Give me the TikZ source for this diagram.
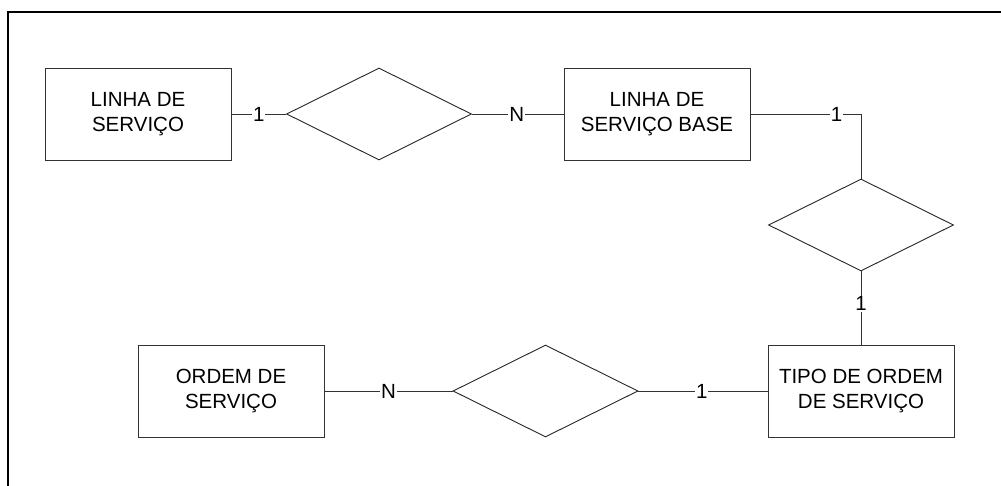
\documentclass[tikz,border=0pt]{standalone}
\usepackage{fontspec}
\setmainfont{Liberation Sans}
\usetikzlibrary{shapes.geometric}
\begin{document}
\begin{tikzpicture}[x=1pt,y=-1pt,
  entity/.style={draw=black!80, line width=0.9pt, minimum width=186pt, minimum height=92pt,
    align=center, inner sep=0pt, font=\fontsize{20.5}{24.5}\selectfont},
  relation/.style={draw=black!85, line width=0.9pt, diamond, minimum width=185pt, minimum height=92pt,
    inner sep=0pt, aspect=2},
  link/.style={draw=black!80, line width=0.9pt},
  card/.style={fill=white, inner sep=1pt, font=\fontsize{20.5}{24}\selectfont}]
  \useasboundingbox (0,0) rectangle (1001,486);
  % outer frame, running off the page at right and bottom
  \begin{scope}
    \clip (0,0) rectangle (1001,486);
    \draw[line width=1.6pt] (8,12) rectangle (1020,500);
  \end{scope}

  % entities
  \node[entity] (ls)   at (138,114) {LINHA DE\\SERVIÇO};
  \node[entity] (lsb)  at (657,114) {LINHA DE\\SERVIÇO BASE};
  \node[entity] (tos)  at (861,391) {TIPO DE ORDEM\\DE SERVIÇO};
  \node[entity] (os)   at (231,391) {ORDEM DE\\SERVIÇO};

  % relationships
  \node[relation] (r1) at (379,114) {};
  \node[relation] (r2) at (861,225) {};
  \node[relation] (r3) at (545.5,391) {};

  % connectors with cardinalities
  \draw[link] (ls.east) -- node[card, pos=0.5] {1} (r1.west);
  \draw[link] (r1.east) -- node[card, pos=0.49] {N} (lsb.east -| lsb.west);
  \coordinate (corner) at (r2.north |- lsb.east);
  \draw[link] (lsb.east) -- node[card, pos=0.78] {1} (corner) -- (r2.north);
  \draw[link] (r2.south) -- node[card, pos=0.44] {1} (tos.north);
  \draw[link] (tos.west) -- node[card, pos=0.51] {1} (r3.east);
  \draw[link] (r3.west) -- node[card, pos=0.5] {N} (os.east);
\end{tikzpicture}
\end{document}
